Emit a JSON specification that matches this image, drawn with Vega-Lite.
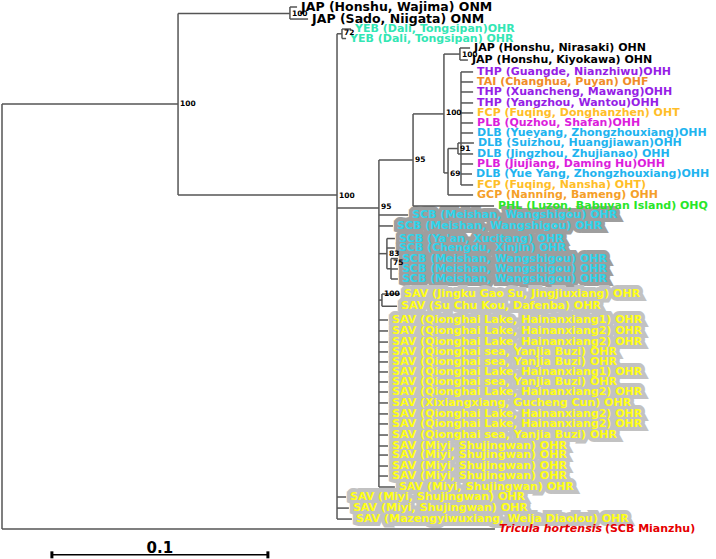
{
 "$schema": "https://vega.github.io/schema/vega-lite/v6.json",
 "width": 716, "height": 559,
 "autosize": {"type": "fit", "contains": "padding"},
 "padding": 0,
 "background": "white",
 "config": {"view": {"stroke": null}, "text": {"font": "DejaVu Sans", "fontWeight": "bold"}},
 "datasets": {
  "tips": [
   {"label": "JAP (Honshu, Wajima) ONM", "grp": "JAP", "hap": "ONM", "y": 1.00, "x0": 0.1333, "x": 0.1366},
   {"label": "JAP (Sado, Niigata) ONM", "grp": "JAP", "hap": "ONM", "y": 2.13, "x0": 0.1333, "x": 0.1417},
   {"label": "YEB (Dali, Tongsipan)OHR", "grp": "YEB", "hap": "OHR", "y": 3.07, "x0": 0.1574, "x": 0.1616},
   {"label": "YEB (Dali, Tongsipan) OHR", "grp": "YEB", "hap": "OHR", "y": 3.96, "x0": 0.1574, "x": 0.1593},
   {"label": "JAP (Honshu, Nirasaki) OHN", "grp": "JAP", "hap": "OHN", "y": 4.85, "x0": 0.2120, "x": 0.2167},
   {"label": "JAP (Honshu, Kiyokawa) OHN", "grp": "JAP", "hap": "OHN", "y": 5.98, "x0": 0.2120, "x": 0.2157},
   {"label": "THP (Guangde, Nianzhiwu)OHH", "grp": "THP", "hap": "OHH", "y": 7.10, "x0": 0.2125, "x": 0.2181},
   {"label": "TAI (Changhua, Puyan) OHF", "grp": "TAI", "hap": "OHF", "y": 8.04, "x0": 0.2125, "x": 0.2181},
   {"label": "THP (Xuancheng, Mawang)OHH", "grp": "THP", "hap": "OHH", "y": 8.98, "x0": 0.2125, "x": 0.2181},
   {"label": "THP (Yangzhou, Wantou)OHH", "grp": "THP", "hap": "OHH", "y": 10.01, "x0": 0.2125, "x": 0.2181},
   {"label": "FCP (Fuqing, Donghanzhen) OHT", "grp": "FCP", "hap": "OHT", "y": 10.95, "x0": 0.2125, "x": 0.2181},
   {"label": "PLB (Quzhou, Shafan)OHH", "grp": "PLB", "hap": "OHH", "y": 11.89, "x0": 0.2125, "x": 0.2181},
   {"label": "DLB (Yueyang, Zhongzhouxiang)OHH", "grp": "DLB", "hap": "OHH", "y": 12.83, "x0": 0.2125, "x": 0.2181},
   {"label": "DLB (Suizhou, Huangjiawan)OHH", "grp": "DLB", "hap": "OHH", "y": 13.77, "x0": 0.2111, "x": 0.2185},
   {"label": "DLB (Jingzhou, Zhujianao) OHH", "grp": "DLB", "hap": "OHH", "y": 14.80, "x0": 0.2111, "x": 0.2181},
   {"label": "PLB (Jiujiang, Daming Hu)OHH", "grp": "PLB", "hap": "OHH", "y": 15.74, "x0": 0.2125, "x": 0.2181},
   {"label": "DLB (Yue Yang, Zhongzhouxiang)OHH", "grp": "DLB", "hap": "OHH", "y": 16.68, "x0": 0.2125, "x": 0.2176},
   {"label": "FCP (Fuqing, Nansha) OHT)", "grp": "FCP", "hap": "OHT", "y": 17.71, "x0": 0.2125, "x": 0.2181},
   {"label": "GCP (Nanning, Bameng) OHH", "grp": "GCP", "hap": "OHH", "y": 18.65, "x0": 0.2065, "x": 0.2181},
   {"label": "PHL (Luzon, Babuyan Island) OHQ", "grp": "PHL", "hap": "OHQ", "y": 19.69, "x0": 0.1903, "x": 0.2278},
   {"label": "SCB (Meishan, Wangshigou) OHR", "grp": "SCB", "hap": "OHR", "y": 20.53, "x0": 0.1745, "x": 0.1880},
   {"label": "SCB (Meishan, Wangshigou) OHR", "grp": "SCB", "hap": "OHR", "y": 21.56, "x0": 0.1745, "x": 0.1810},
   {"label": "SCB (Ya'an, Xucitang) OHR", "grp": "SCB", "hap": "OHR", "y": 22.74, "x0": 0.1782, "x": 0.1819},
   {"label": "SCB (Chengdu, Xinjin) OHR", "grp": "SCB", "hap": "OHR", "y": 23.63, "x0": 0.1782, "x": 0.1819},
   {"label": "SCB (Meishan, Wangshigou) OHR", "grp": "SCB", "hap": "OHR", "y": 24.62, "x0": 0.1801, "x": 0.1833},
   {"label": "SCB (Meishan, Wangshigou) OHR", "grp": "SCB", "hap": "OHR", "y": 25.60, "x0": 0.1801, "x": 0.1833},
   {"label": "SCB (Meishan, Wangshigou) OHR", "grp": "SCB", "hap": "OHR", "y": 26.54, "x0": 0.1801, "x": 0.1833},
   {"label": "SAV (Jingku Gao Su, Jingjiuxiang) OHR", "grp": "SAV", "hap": "OHR", "y": 27.95, "x0": 0.1759, "x": 0.1843},
   {"label": "SAV (Su Chu Kou, Dafenba) OHR", "grp": "SAV", "hap": "OHR", "y": 29.10, "x0": 0.1759, "x": 0.1829},
   {"label": "SAV (Qionghai Lake, Hainanxiang1) OHR", "grp": "SAV", "hap": "OHR", "y": 30.39, "x0": 0.1745, "x": 0.1787},
   {"label": "SAV (Qionghai Lake, Hainanxiang2) OHR", "grp": "SAV", "hap": "OHR", "y": 31.42, "x0": 0.1745, "x": 0.1787},
   {"label": "SAV (Qionghai Lake, Hainanxiang2) OHR", "grp": "SAV", "hap": "OHR", "y": 32.46, "x0": 0.1745, "x": 0.1787},
   {"label": "SAV (Qionghai sea, Yanjia Buzi) OHR", "grp": "SAV", "hap": "OHR", "y": 33.39, "x0": 0.1745, "x": 0.1787},
   {"label": "SAV (Qionghai sea, Yanjia Buzi) OHR", "grp": "SAV", "hap": "OHR", "y": 34.33, "x0": 0.1745, "x": 0.1787},
   {"label": "SAV (Qionghai Lake, Hainanxiang1) OHR", "grp": "SAV", "hap": "OHR", "y": 35.27, "x0": 0.1745, "x": 0.1787},
   {"label": "SAV (Qionghai sea, Yanjia Buzi) OHR", "grp": "SAV", "hap": "OHR", "y": 36.21, "x0": 0.1745, "x": 0.1787},
   {"label": "SAV (Qionghai Lake, Hainanxiang2) OHR", "grp": "SAV", "hap": "OHR", "y": 37.15, "x0": 0.1745, "x": 0.1787},
   {"label": "SAV (Xixiangxiang, Gucheng Cun) OHR", "grp": "SAV", "hap": "OHR", "y": 38.18, "x0": 0.1745, "x": 0.1787},
   {"label": "SAV (Qionghai Lake, Hainanxiang2) OHR", "grp": "SAV", "hap": "OHR", "y": 39.21, "x0": 0.1745, "x": 0.1787},
   {"label": "SAV (Qionghai Lake, Hainanxiang2) OHR", "grp": "SAV", "hap": "OHR", "y": 40.15, "x0": 0.1745, "x": 0.1787},
   {"label": "SAV (Qionghai sea, Yanjia Buzi) OHR", "grp": "SAV", "hap": "OHR", "y": 41.19, "x0": 0.1745, "x": 0.1787},
   {"label": "SAV (Miyi, Shujingwan) OHR", "grp": "SAV", "hap": "OHR", "y": 42.22, "x0": 0.1745, "x": 0.1787},
   {"label": "SAV (Miyi, Shujingwan) OHR", "grp": "SAV", "hap": "OHR", "y": 43.07, "x0": 0.1745, "x": 0.1787},
   {"label": "SAV (Miyi, Shujingwan) OHR", "grp": "SAV", "hap": "OHR", "y": 44.10, "x0": 0.1745, "x": 0.1787},
   {"label": "SAV (Miyi, Shujingwan) OHR", "grp": "SAV", "hap": "OHR", "y": 45.04, "x0": 0.1745, "x": 0.1787},
   {"label": "SAV (Miyi, Shujingwan) OHR", "grp": "SAV", "hap": "OHR", "y": 46.07, "x0": 0.1745, "x": 0.1819},
   {"label": "SAV (Miyi, Shujingwan) OHR", "grp": "SAV", "hap": "OHR", "y": 47.01, "x0": 0.1551, "x": 0.1593},
   {"label": "SAV (Miyi, Shujingwan) OHR", "grp": "SAV", "hap": "OHR", "y": 48.05, "x0": 0.1551, "x": 0.1606},
   {"label": "SAV (Mazengyiwuxiang, Weija Diaolou) OHR", "grp": "SAV", "hap": "OHR", "y": 49.08, "x0": 0.1551, "x": 0.1620},
   {"label": "Tricula hortensis", "label2": "(SCB Mianzhu)", "grp": "OUT", "hap": "", "y": 50.02, "x0": 0.0, "x": 0.2282}
  ],
  "edges": [
   {"x": 0.0, "x2": 0.0815, "y": 10.11, "y2": 10.11},
   {"x": 0.0815, "x2": 0.1333, "y": 1.6, "y2": 1.6},
   {"x": 0.0815, "x2": 0.1551, "y": 18.65, "y2": 18.65},
   {"x": 0.1551, "x2": 0.1574, "y": 3.515, "y2": 3.515},
   {"x": 0.1551, "x2": 0.1745, "y": 19.87, "y2": 19.87},
   {"x": 0.1745, "x2": 0.1903, "y": 15.36, "y2": 15.36},
   {"x": 0.1903, "x2": 0.2046, "y": 11.04, "y2": 11.04},
   {"x": 0.2046, "x2": 0.2120, "y": 5.42, "y2": 5.42},
   {"x": 0.2046, "x2": 0.2065, "y": 16.58, "y2": 16.58},
   {"x": 0.2065, "x2": 0.2111, "y": 14.29, "y2": 14.29},
   {"x": 0.1745, "x2": 0.1782, "y": 24.16, "y2": 24.16},
   {"x": 0.1782, "x2": 0.1801, "y": 25.58, "y2": 25.58},
   {"x": 0.1745, "x2": 0.1759, "y": 28.52, "y2": 28.52},
   {"x": 0.0, "x2": 0.0, "y": 10.11, "y2": 50.02},
   {"x": 0.0815, "x2": 0.0815, "y": 1.6, "y2": 18.65},
   {"x": 0.1333, "x2": 0.1333, "y": 1.0, "y2": 2.13},
   {"x": 0.1551, "x2": 0.1551, "y": 3.515, "y2": 49.08},
   {"x": 0.1574, "x2": 0.1574, "y": 3.07, "y2": 3.96},
   {"x": 0.1745, "x2": 0.1745, "y": 15.36, "y2": 46.07},
   {"x": 0.1903, "x2": 0.1903, "y": 11.04, "y2": 19.69},
   {"x": 0.2046, "x2": 0.2046, "y": 5.42, "y2": 16.58},
   {"x": 0.2120, "x2": 0.2120, "y": 4.85, "y2": 5.98},
   {"x": 0.2125, "x2": 0.2125, "y": 7.10, "y2": 17.71},
   {"x": 0.2111, "x2": 0.2111, "y": 13.77, "y2": 14.80},
   {"x": 0.2065, "x2": 0.2065, "y": 14.29, "y2": 18.65},
   {"x": 0.1782, "x2": 0.1782, "y": 22.74, "y2": 25.58},
   {"x": 0.1801, "x2": 0.1801, "y": 24.62, "y2": 26.54},
   {"x": 0.1759, "x2": 0.1759, "y": 27.95, "y2": 29.10}
  ],
  "boot": [
   {"x": 0.0815, "y": 10.11, "b": "100"},
   {"x": 0.1333, "y": 1.66, "b": "100"},
   {"x": 0.1574, "y": 3.44, "b": "72"},
   {"x": 0.1551, "y": 18.74, "b": "100"},
   {"x": 0.1745, "y": 19.77, "b": "95"},
   {"x": 0.1903, "y": 15.36, "b": "95"},
   {"x": 0.2046, "y": 10.95, "b": "100"},
   {"x": 0.2120, "y": 5.51, "b": "100"},
   {"x": 0.2111, "y": 14.33, "b": "91"},
   {"x": 0.2065, "y": 16.68, "b": "69"},
   {"x": 0.1782, "y": 24.19, "b": "83"},
   {"x": 0.1801, "y": 25.03, "b": "75"},
   {"x": 0.1759, "y": 27.94, "b": "100"}
  ],
  "bar": [
   {"x": 0.0231, "x2": 0.1231, "y": 52.44, "lab": "0.1"}
  ]
 },
 "encoding": {
  "x": {"field": "x", "type": "quantitative", "scale": {"domain": [-0.000926, 0.330556], "nice": false, "zero": false}, "axis": null},
  "y": {"field": "y", "type": "quantitative", "scale": {"domain": [0.3427, 52.831], "reverse": true, "nice": false, "zero": false}, "axis": null}
 },
 "layer": [
  {
   "data": {"name": "tips"},
   "transform": [{"filter": "datum.grp === 'SCB'"}],
   "mark": {"type": "text", "font": "DejaVu Sans", "fontWeight": "bold", "align": "left", "baseline": "middle", "dx": 4, "fontSize": 11, "fill": "#9e9e9e", "stroke": "#9e9e9e", "strokeWidth": 8, "strokeJoin": "miter", "strokeMiterLimit": 2},
   "encoding": {"text": {"field": "label"}}
  },
  {
   "data": {"name": "tips"},
   "transform": [{"filter": "datum.grp === 'SAV'"}],
   "mark": {"type": "text", "font": "DejaVu Sans", "fontWeight": "bold", "align": "left", "baseline": "middle", "dx": 4, "fontSize": 11, "fill": "#c2c2c2", "stroke": "#c2c2c2", "strokeWidth": 8, "strokeJoin": "miter", "strokeMiterLimit": 2},
   "encoding": {"text": {"field": "label"}}
  },
  {
   "data": {"name": "edges"},
   "mark": {"type": "rule", "color": "#555555", "strokeWidth": 1.5},
   "encoding": {"x2": {"field": "x2"}, "y2": {"field": "y2"}}
  },
  {
   "data": {"name": "tips"},
   "mark": {"type": "rule", "color": "#555555", "strokeWidth": 1.5},
   "encoding": {
    "x": {"field": "x0", "type": "quantitative", "scale": {"domain": [-0.000926, 0.330556], "nice": false, "zero": false}, "axis": null},
    "x2": {"field": "x"}
   }
  },
  {
   "data": {"name": "tips"},
   "transform": [{"filter": "datum.grp !== 'OUT' && datum.hap !== 'ONM'"}],
   "mark": {"type": "text", "font": "DejaVu Sans", "fontWeight": "bold", "align": "left", "baseline": "middle", "dx": 4, "fontSize": 11},
   "encoding": {
    "text": {"field": "label"},
    "color": {"field": "grp", "type": "nominal", "legend": null, "scale": {
      "domain": ["JAP", "YEB", "THP", "TAI", "FCP", "PLB", "DLB", "GCP", "PHL", "SCB", "SAV"],
      "range": ["#000000", "#33e6b4", "#961ee6", "#f08c28", "#ffbe28", "#dc1edc", "#1fb4ef", "#f5a028", "#28e628", "#2fd4ea", "#ffff14"]}}
   }
  },
  {
   "data": {"name": "tips"},
   "transform": [{"filter": "datum.hap === 'ONM'"}],
   "mark": {"type": "text", "font": "DejaVu Sans", "fontWeight": "bold", "align": "left", "baseline": "middle", "dx": 4, "fontSize": 12.5},
   "encoding": {
    "text": {"field": "label"},
    "color": {"field": "grp", "type": "nominal", "legend": null}
   }
  },
  {
   "data": {"name": "tips"},
   "transform": [{"filter": "datum.grp === 'OUT'"}],
   "mark": {"type": "text", "font": "DejaVu Sans", "fontWeight": "bold", "align": "left", "baseline": "middle", "dx": 4, "fontSize": 11, "fontStyle": "italic", "color": "#e60000"},
   "encoding": {"text": {"field": "label"}}
  },
  {
   "data": {"name": "tips"},
   "transform": [{"filter": "datum.grp === 'OUT'"}],
   "mark": {"type": "text", "font": "DejaVu Sans", "fontWeight": "bold", "align": "left", "baseline": "middle", "dx": 110, "fontSize": 11, "color": "#e60000"},
   "encoding": {"text": {"field": "label2"}}
  },
  {
   "data": {"name": "boot"},
   "mark": {"type": "text", "font": "DejaVu Sans", "fontWeight": "bold", "align": "left", "baseline": "middle", "dx": 2, "fontSize": 7.5, "color": "#000000"},
   "encoding": {"text": {"field": "b"}}
  },
  {
   "data": {"name": "bar"},
   "mark": {"type": "rule", "color": "#000000", "strokeWidth": 1.5},
   "encoding": {"x2": {"field": "x2"}}
  },
  {
   "data": {"name": "bar"},
   "mark": {"type": "tick", "orient": "vertical", "color": "#000000", "size": 7, "thickness": 3, "opacity": 1}
  },
  {
   "data": {"name": "bar"},
   "mark": {"type": "tick", "orient": "vertical", "color": "#000000", "size": 7, "thickness": 3, "opacity": 1},
   "encoding": {"x": {"field": "x2", "type": "quantitative", "scale": {"domain": [-0.000926, 0.330556], "nice": false, "zero": false}, "axis": null}}
  },
  {
   "data": {"name": "bar"},
   "mark": {"type": "text", "font": "DejaVu Sans", "fontWeight": "bold", "align": "center", "baseline": "alphabetic", "dx": 108, "dy": -2, "fontSize": 15, "color": "#000000"},
   "encoding": {"text": {"field": "lab"}}
  }
 ]
}
